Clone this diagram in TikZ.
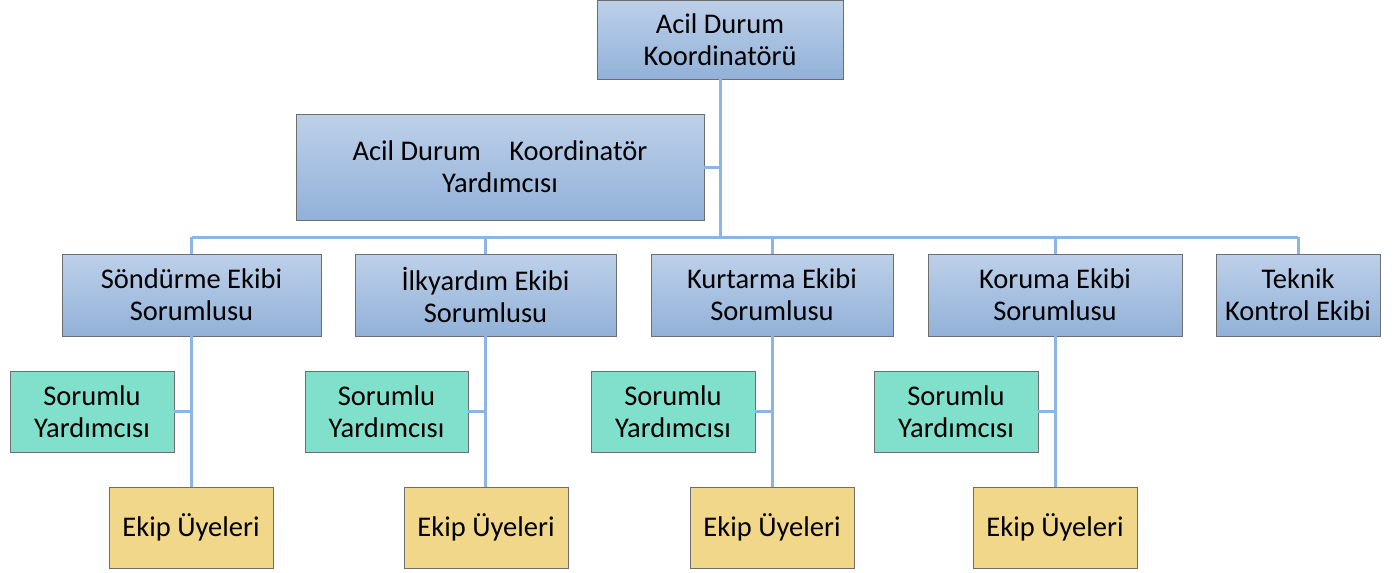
\documentclass[tikz,border=0pt]{standalone}
\usepackage{fontspec}
\setmainfont{Carlito}
\definecolor{btop}{RGB}{189,208,233}
\definecolor{bbot}{RGB}{146,177,216}
\definecolor{gfill}{RGB}{128,224,204}
\definecolor{yfill}{RGB}{241,215,138}
\definecolor{linec}{RGB}{141,180,226}
\definecolor{bord}{RGB}{110,110,110}
\tikzset{
  x=1pt,y=-1pt,
  boxtext/.style={align=center,font=\fontsize{28.5}{32}\selectfont,inner sep=0pt},
  bluebox/.style={boxtext,draw=bord,line width=0.8pt,top color=btop,bottom color=bbot},
  greenbox/.style={boxtext,draw=bord,line width=0.8pt,fill=gfill},
  yellowbox/.style={boxtext,draw=bord,line width=0.8pt,fill=yfill},
  conn/.style={draw=linec,line width=3pt}
}
\newcommand{\boxat}[6]{% style, name, x1, y1, x2, y2 ; text via next arg
  \node[#1,minimum width=#5-#3,minimum height=#6-#4] (#2) at ({(#3+#5)/2},{(#4+#6)/2})}
\begin{document}
\begin{tikzpicture}
\useasboundingbox (0,0) rectangle (1398,573);
% boxes
\boxat{bluebox}{top}{597}{0}{843}{79} {Acil Durum\\Koordinatörü};
\boxat{bluebox}{dep}{296}{114}{704}{220} {Acil Durum\quad Koordinatör\\Yardımcısı};
\boxat{bluebox}{s1}{62}{254}{321}{336} {Söndürme Ekibi\\Sorumlusu};
\boxat{bluebox}{s2}{355}{254}{616}{336} {İlkyardım Ekibi\\Sorumlusu};
\boxat{bluebox}{s3}{651}{254}{893}{336} {Kurtarma Ekibi\\Sorumlusu};
\boxat{bluebox}{s4}{928}{254}{1182}{336} {Koruma Ekibi\\Sorumlusu};
\boxat{bluebox}{s5}{1216}{254}{1380}{336} {Teknik\\Kontrol Ekibi};
\boxat{greenbox}{y1}{10}{371}{174}{452} {Sorumlu\\Yardımcısı};
\boxat{greenbox}{y2}{305}{371}{468}{452} {Sorumlu\\Yardımcısı};
\boxat{greenbox}{y3}{591}{371}{755}{452} {Sorumlu\\Yardımcısı};
\boxat{greenbox}{y4}{874}{371}{1038}{452} {Sorumlu\\Yardımcısı};
\boxat{yellowbox}{e1}{109}{487}{273}{568} {Ekip Üyeleri};
\boxat{yellowbox}{e2}{404}{487}{568}{568} {Ekip Üyeleri};
\boxat{yellowbox}{e3}{690}{487}{854}{568} {Ekip Üyeleri};
\boxat{yellowbox}{e4}{973}{487}{1137}{568} {Ekip Üyeleri};
% connectors
\coordinate (bus) at (top.south |- 0,237);
\coordinate (dj) at (top.south |- dep.east);
\draw[conn] (top.south) -- (bus);
\draw[conn] (s1.north |- bus) -- (s5.north |- bus);
\draw[conn] (dep.east) -- (dj);
\foreach \s/\y/\e in {s1/y1/e1,s2/y2/e2,s3/y3/e3,s4/y4/e4}{
  \draw[conn] (\s.north |- bus) -- (\s.north);
  \draw[conn] (\s.south) -- (\s.south |- \e.north);
  \draw[conn] (\y.east) -- (\y.east -| \s.south);
}
\draw[conn] (s5.north |- bus) -- (s5.north);
\end{tikzpicture}
\end{document}
